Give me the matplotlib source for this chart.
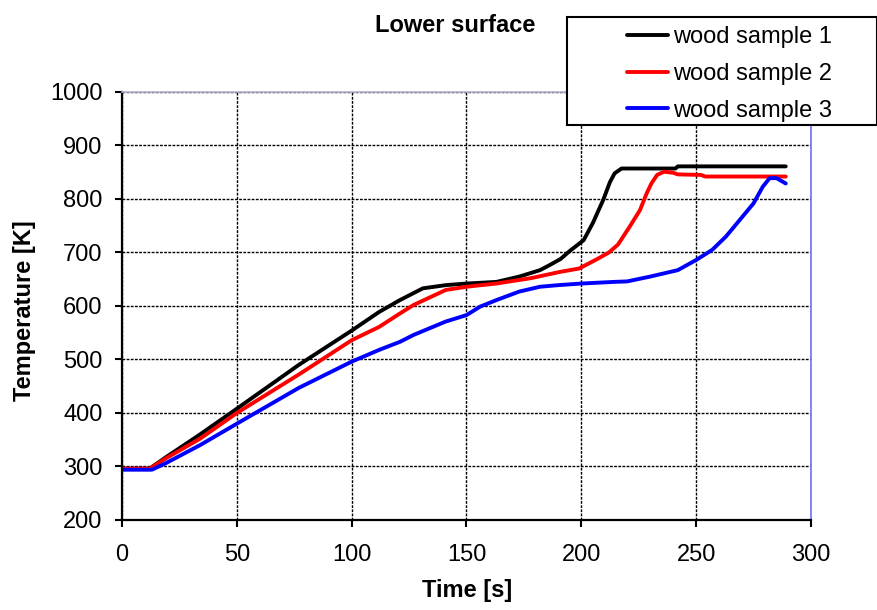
import matplotlib
matplotlib.use('Agg')
import matplotlib.pyplot as plt
from matplotlib.patches import Rectangle

plt.rcParams['font.family'] = ['Liberation Sans', 'DejaVu Sans']

time_s1 = [0, 12, 19, 34, 50, 77, 100, 112, 121, 131, 141, 150, 163, 173, 182, 186,
           191, 195, 201, 205, 209.5, 212.5, 214.5, 217.5, 241, 242, 289]
temp_s1 = [296, 296, 317, 360, 408, 490, 554, 589, 611, 633, 639, 642, 645, 655, 667, 676,
           688, 703, 723, 755, 798, 832, 848, 857, 857, 861, 861]

time_s2 = [0, 12, 19, 34, 50, 77, 100, 112, 121, 127, 141, 150, 163, 178, 191, 199, 207,
           212, 216, 221, 225.5, 228.5, 230.5, 233, 236, 240, 242, 252, 254, 289]
temp_s2 = [296, 296, 315, 352, 400, 472, 536, 561, 586, 602, 630, 636, 642, 652, 664, 670, 688,
           700, 715, 748, 779, 811, 829, 845, 851, 849, 846, 845, 842, 842]

time_s3 = [0, 13, 19, 34, 50, 77, 100, 112, 121, 127, 141, 150, 156, 163, 173, 182, 190, 200,
           214, 220, 230, 242, 250, 257, 263, 269, 275, 279, 282, 285, 289]
temp_s3 = [294, 294, 306, 340, 380, 447, 496, 518, 533, 546, 571, 583, 599, 611, 627, 636, 639, 642,
           645, 646, 655, 667, 686, 705, 730, 761, 792, 823, 839, 839, 829]

labels = ['wood sample 1', 'wood sample 2', 'wood sample 3']
colors = ['black', 'red', 'blue']
x_ticks = [0, 50, 100, 150, 200, 250, 300]
y_ticks = [200, 300, 400, 500, 600, 700, 800, 900, 1000]

W, H = 878, 610
fig = plt.figure(figsize=(W / 100, H / 100), dpi=100)
ax = fig.add_axes([122 / W, 1 - 520 / H, 689 / W, 428 / H])

series = [(time_s1, temp_s1), (time_s2, temp_s2), (time_s3, temp_s3)]
handles = []
for (t, T), c, lab in zip(series, colors, labels):
    h, = ax.plot(t, T, color=c, lw=2.8, label=lab, solid_capstyle='round')
    handles.append(h)

ax.set_xlim(0, 300)
ax.set_ylim(200, 1000)
ax.set_xticks(x_ticks)
ax.set_yticks(y_ticks)
ax.grid(True, color='black', linestyle=(0, (2, 1)), lw=1)

for side in ['left', 'bottom']:
    ax.spines[side].set_color('black')
    ax.spines[side].set_linewidth(1.6)
ax.spines['top'].set_color('#b0b0d0')
ax.spines['top'].set_linewidth(1.2)
ax.spines['right'].set_color('#7070ff')
ax.spines['right'].set_linewidth(1.2)

ax.tick_params(axis='both', direction='out', length=5, width=1.5, labelsize=17)
ax.tick_params(axis='x', pad=12)
ax.tick_params(axis='y', pad=9)

fig.text(455 / W, 1 - 32 / H, 'Lower surface', fontsize=17, fontweight='bold',
         ha='center', va='baseline')
fig.text(467 / W, 1 - 597 / H, 'Time [s]', fontsize=17, fontweight='bold',
         ha='center', va='baseline')
fig.text(25 / W, 1 - 311 / H, 'Temperature [K]', fontsize=17, fontweight='bold',
         rotation=90, ha='center', va='center')

# legend box drawn separately to get the wide left margin
box = Rectangle((567 / W, 1 - 125 / H), 310 / W, 108 / H, transform=fig.transFigure,
                facecolor='white', edgecolor='black', lw=1.5, zorder=4)
fig.add_artist(box)
leg = fig.legend(handles=handles, loc='upper left', bbox_to_anchor=(627 / W, 1 - 26 / H),
                 frameon=False, fontsize=17, borderpad=0, borderaxespad=0,
                 handlelength=1.74, handletextpad=0.2, labelspacing=0.63)
leg.set_zorder(6)

fig.savefig('out.png', dpi=100)
